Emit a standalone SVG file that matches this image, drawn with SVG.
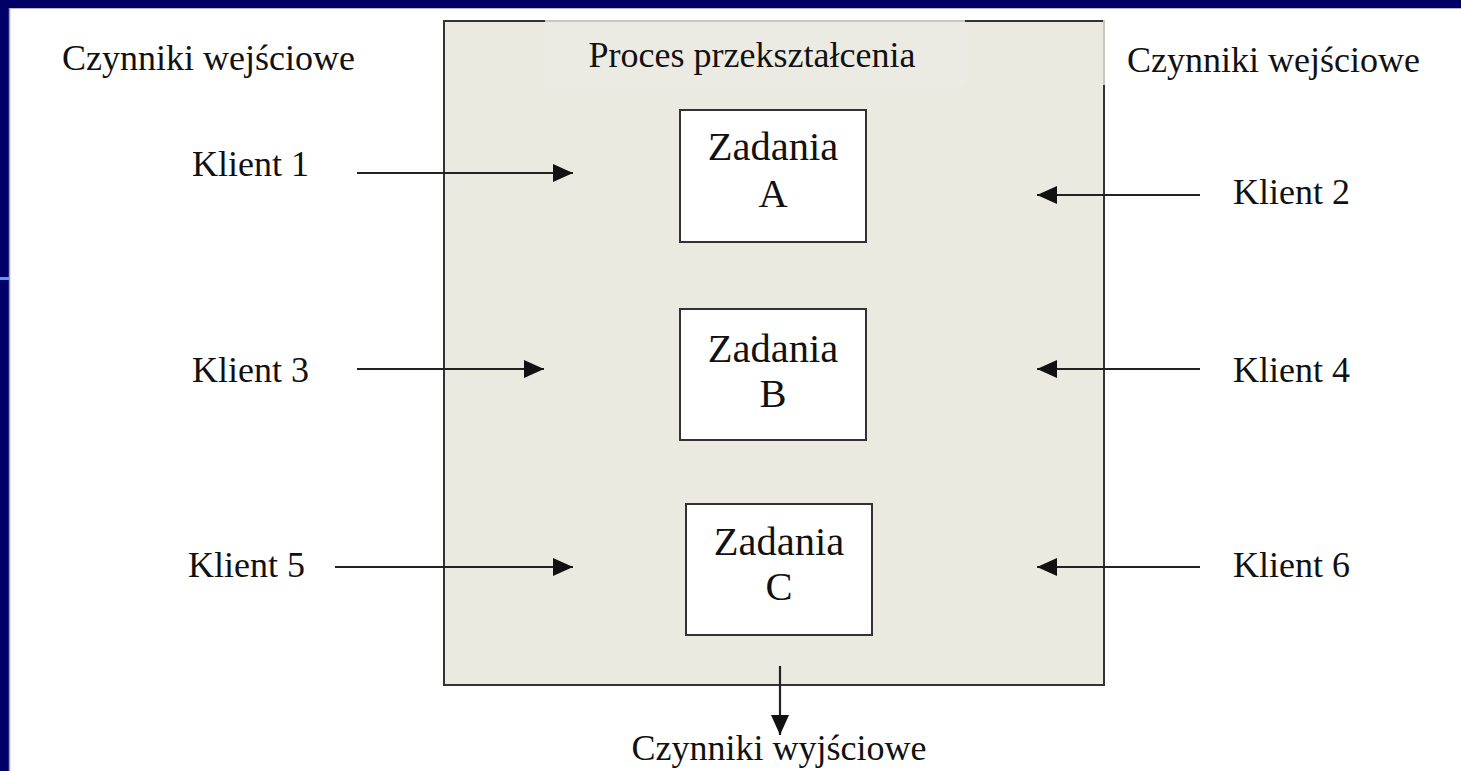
<svg xmlns="http://www.w3.org/2000/svg" width="1461" height="771" viewBox="0 0 1461 771">
<defs>
<marker id="ah" viewBox="0 0 20 18" refX="20" refY="9" markerWidth="20" markerHeight="18" markerUnits="userSpaceOnUse" orient="auto">
<path d="M0,0 L20,9 L0,18 Z" fill="#111"/>
</marker>
<style>
text{font-family:"Liberation Serif","Times New Roman",serif;fill:#111}
.lbl{font-size:36px}
.tsk{font-size:40.5px;text-anchor:middle}
.box{fill:#fff;stroke:#333;stroke-width:2}
.conn{stroke:#222;stroke-width:2.2;fill:none;marker-end:url(#ah)}
</style>
</defs>
<rect x="0" y="0" width="1461" height="771" fill="#000066"/>
<rect x="10" y="8" width="1451" height="763" fill="#fff"/>
<line x1="10" y1="8.5" x2="1461" y2="8.5" stroke="#b8b8c0" stroke-width="1"/>
<line x1="9.5" y1="8" x2="9.5" y2="771" stroke="#a0a0a8" stroke-width="1.5"/>
<rect x="0" y="277" width="9" height="3" fill="#5aa0e8"/>

<g id="process">
<rect x="444" y="21" width="660" height="664" fill="#ebeae1" stroke="#333" stroke-width="2"/>
<rect x="545" y="20.5" width="420" height="64" fill="#ecebe3" stroke="none"/>
<line x1="545" y1="21" x2="965" y2="21" stroke="#c8c8c0" stroke-width="2"/>
<line x1="1104" y1="20" x2="1104" y2="85" stroke="#c8c8c0" stroke-width="2"/>
<text class="lbl" x="752" y="67" text-anchor="middle">Proces przekształcenia</text>
</g>

<g id="in-left-label"><text class="lbl" x="62" y="70">Czynniki wejściowe</text></g>
<g id="in-right-label"><text class="lbl" x="1127" y="72">Czynniki wejściowe</text></g>
<g id="out-label"><text class="lbl" x="779" y="760" text-anchor="middle">Czynniki wyjściowe</text></g>

<g id="taskA"><rect class="box" x="680" y="110" width="186" height="132"/><text class="tsk" x="773" y="160">Zadania</text><text class="tsk" x="773" y="207">A</text></g>
<g id="taskB"><rect class="box" x="680" y="309" width="186" height="131"/><text class="tsk" x="773" y="362">Zadania</text><text class="tsk" x="773" y="407">B</text></g>
<g id="taskC"><rect class="box" x="686" y="504" width="186" height="131"/><text class="tsk" x="779" y="555">Zadania</text><text class="tsk" x="779" y="600">C</text></g>

<g id="k1"><text class="lbl" x="192" y="176">Klient 1</text></g>
<g id="k2"><text class="lbl" x="1233" y="204">Klient 2</text></g>
<g id="k3"><text class="lbl" x="192" y="382">Klient 3</text></g>
<g id="k4"><text class="lbl" x="1233" y="382">Klient 4</text></g>
<g id="k5"><text class="lbl" x="188" y="577">Klient 5</text></g>
<g id="k6"><text class="lbl" x="1233" y="577">Klient 6</text></g>

<g id="connectors">
<line class="conn" x1="357" y1="173" x2="573" y2="173"/>
<line class="conn" x1="1200" y1="195" x2="1037" y2="195"/>
<line class="conn" x1="357" y1="369" x2="544" y2="369"/>
<line class="conn" x1="1200" y1="369" x2="1037" y2="369"/>
<line class="conn" x1="335" y1="567" x2="573" y2="567"/>
<line class="conn" x1="1200" y1="567" x2="1037" y2="567"/>
<line class="conn" x1="780" y1="666" x2="780" y2="735"/>
</g>
</svg>
